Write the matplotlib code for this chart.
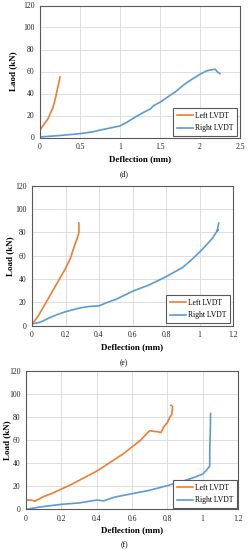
import matplotlib
matplotlib.use("Agg")
import matplotlib.pyplot as plt

# ---------- data ----------
# Panel (d)
d_left_x = [0, 0.0, 0.02, 0.06, 0.10, 0.13, 0.16, 0.18, 0.20, 0.22, 0.24, 0.25]
d_left_y = [0, 7, 9, 13, 17, 22, 27, 32, 38, 45, 51, 55]
d_right_x = [0, 0.25, 0.5, 0.65, 0.8, 0.9, 1.0, 1.1, 1.2, 1.3, 1.38, 1.42, 1.5, 1.6,
             1.7, 1.8, 1.9, 2.0, 2.08, 2.14, 2.19, 2.22, 2.25]
d_right_y = [0.5, 1.8, 3.5, 5, 7.5, 9, 10.5, 14.5, 19, 23, 26, 29, 32, 37,
             42, 48, 53, 57.5, 60.5, 61.5, 62, 59.5, 58]

# Panel (e)
e_left_x = [0, 0.01, 0.04, 0.08, 0.12, 0.16, 0.2, 0.23, 0.25, 0.265, 0.275, 0.28, 0.28]
e_left_y = [1, 3, 9, 19, 29, 39, 49, 58, 67, 73, 77, 80, 88]
e_right_x = [0, 0.05, 0.1, 0.15, 0.2, 0.28, 0.34, 0.4, 0.45, 0.5, 0.6, 0.7, 0.8, 0.9,
             0.96, 1.0, 1.04, 1.08, 1.1, 1.11, 1.105, 1.115]
e_right_y = [1.5, 3, 6.5, 9.5, 12, 15, 16.5, 17, 20, 22.5, 29.5, 35, 42, 50,
             57.5, 63, 69, 75.5, 80, 82, 81, 88]

# Panel (f)
f_left_x = [0, 0.03, 0.05, 0.1, 0.15, 0.2, 0.25, 0.3, 0.35, 0.4, 0.45, 0.5, 0.55, 0.6,
            0.65, 0.68, 0.7, 0.75, 0.765, 0.78, 0.8, 0.815, 0.825, 0.83, 0.82]
f_left_y = [8, 8, 7, 11, 14, 17.5, 21, 25, 29, 33, 38, 43, 48, 54,
            60, 65, 68, 67, 66.5, 71.5, 75, 80, 82, 89, 90]
f_right_x = [0, 0.08, 0.2, 0.3, 0.4, 0.44, 0.5, 0.6, 0.7, 0.8, 0.9, 0.95, 1.0, 1.02,
             1.04, 1.04, 1.043, 1.045]
f_right_y = [0, 2, 4.3, 5.5, 8, 7.3, 10.5, 13.5, 16.5, 20.5, 25, 27.5, 30.5, 33.5,
             37.5, 50, 67, 83]

y_ticks = [0, 20, 40, 60, 80, 100, 120]
d_xticks = [0, 0.5, 1, 1.5, 2, 2.5]
d_xticklabels = ["0", "0.5", "1", "1.5", "2", "2.5"]
ef_xticks = [0, 0.2, 0.4, 0.6, 0.8, 1, 1.2]
ef_xticklabels = ["0", "0.2", "0.4", "0.6", "0.8", "1", "1.2"]
series_names = ["Left LVDT", "Right LVDT"]
x_label = "Deflection (mm)"
y_labels = ["Laod (kN)", "Load (kN)", "Load (kN)"]
captions = ["(d)", "(e)", "(f)"]

# ---------- style ----------
W, H = 248, 550
ORANGE = "#ED7D31"
BLUE = "#5B9BD5"
FRAME = "#595959"
GRID = "#D9D9D9"
SERIF = ["Liberation Serif", "DejaVu Serif"]
plt.rcParams["font.family"] = SERIF

fig = plt.figure(figsize=(W / 100, H / 100), dpi=100)


def px_axes(left, right, top, bottom):
    return fig.add_axes([left / W, 1 - bottom / H, (right - left) / W, (bottom - top) / H])


panels = [
    dict(box=(40, 240, 5.5, 137.5), xlim=(0, 2.5), xt=d_xticks, xtl=d_xticklabels,
         left=(d_left_x, d_left_y), right=(d_right_x, d_right_y),
         ylab_x=13, xlab_y=159, cap_y=174, leg=(237, 136)),
    dict(box=(32, 233, 185.7, 325.7), xlim=(0, 1.2), xt=ef_xticks, xtl=ef_xticklabels,
         left=(e_left_x, e_left_y), right=(e_right_x, e_right_y),
         ylab_x=10, xlab_y=347, cap_y=363, leg=(230, 323)),
    dict(box=(26, 238, 370.7, 509.3), xlim=(0, 1.2), xt=ef_xticks, xtl=ef_xticklabels,
         left=(f_left_x, f_left_y), right=(f_right_x, f_right_y),
         ylab_x=7, xlab_y=530, cap_y=545, leg=(237, 508)),
]

for i, p in enumerate(panels):
    l, r, t, b = p["box"]
    ax = px_axes(l, r, t, b)
    ax.plot(*p["left"], color=ORANGE, lw=1.2, label=series_names[0])
    ax.plot(*p["right"], color=BLUE, lw=1.2, label=series_names[1])
    ax.set_xlim(*p["xlim"])
    ax.set_ylim(0, 120)
    ax.set_xticks(p["xt"])
    ax.set_xticklabels(p["xtl"])
    ax.set_yticks(y_ticks)
    ax.grid(True, color=GRID, lw=0.6)
    ax.set_axisbelow(True)
    for s in ax.spines.values():
        s.set_color(FRAME)
        s.set_linewidth(0.8)
    ax.tick_params(length=0, labelsize=5.5, pad=4, colors="#222222")
    fig.text(p["ylab_x"] / W, 1 - (t + b) / 2 / H, y_labels[i], rotation=90,
             ha="center", va="center", fontsize=6.5, fontweight="bold")
    fig.text((l + r) / 2 / W, 1 - p["xlab_y"] / H, x_label, ha="center", va="center",
             fontsize=6.5, fontweight="bold")
    fig.text(124 / W, 1 - p["cap_y"] / H, captions[i], ha="center", va="center",
             fontsize=5.5)
    lx, ly = p["leg"]
    leg = ax.legend(loc="lower right", bbox_to_anchor=(lx / W, 1 - ly / H),
                    bbox_transform=fig.transFigure, fontsize=5.5, frameon=True,
                    fancybox=False, edgecolor=FRAME, handlelength=2.0,
                    handletextpad=0.3, labelspacing=0.6, borderpad=0.5, borderaxespad=0)
    leg.get_frame().set_linewidth(0.8)
    leg.get_frame().set_alpha(1)

fig.savefig("out.png", dpi=100)
